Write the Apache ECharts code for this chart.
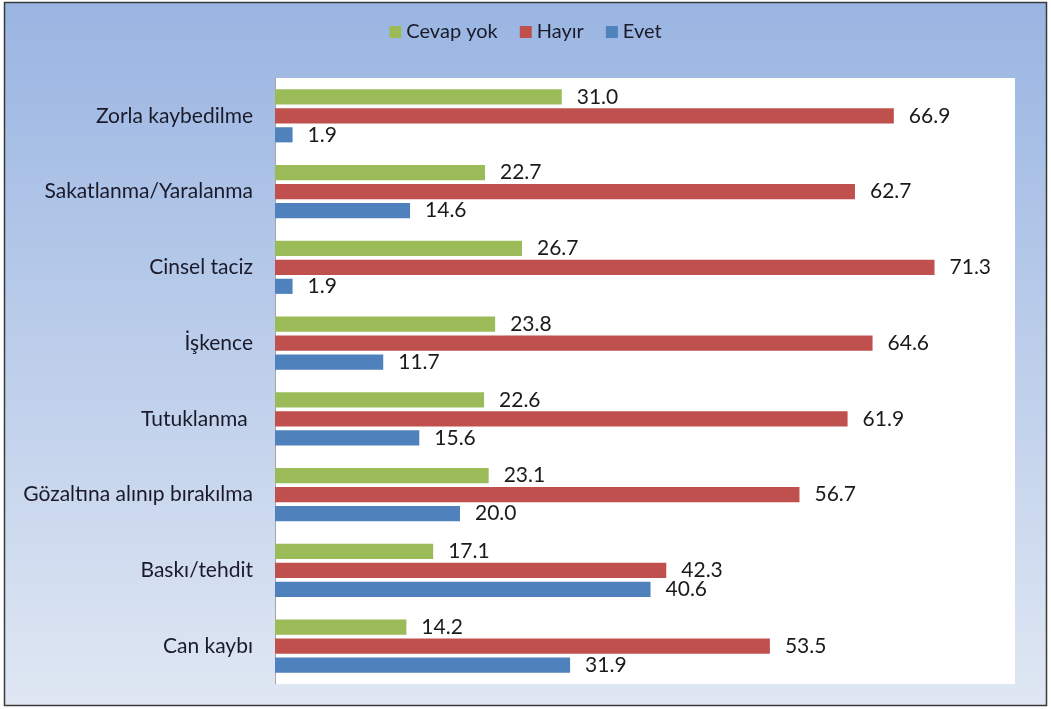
<!DOCTYPE html>
<html lang="tr">
<head>
  <meta http-equiv="Content-Type" content="text/html; charset=UTF-8">
  <title>ECharts</title>
  <script type="text/javascript" src="https://cdn.jsdelivr.net/npm/echarts@6/dist/echarts.min.js"></script>
  <style>html,body{margin:0;padding:0;}</style>
</head>
<body>
<div id="main" style="width: 1051px;height:709px;"></div>
<script type="text/javascript">
  var myChart = echarts.init(document.getElementById('main'));

  // kategoriler (yukaridan asagiya)
  const categories = [
    'Zorla kaybedilme', 'Sakatlanma/Yaralanma', 'Cinsel taciz', 'İşkence',
    'Tutuklanma ', 'Gözaltına alınıp bırakılma', 'Baskı/tehdit', 'Can kaybı'
  ];
  const cevapYok = [31.0, 22.7, 26.7, 23.8, 22.6, 23.1, 17.1, 14.2];
  const hayir    = [66.9, 62.7, 71.3, 64.6, 61.9, 56.7, 42.3, 53.5];
  const evet     = [1.9, 14.6, 1.9, 11.7, 15.6, 20.0, 40.6, 31.9];

  const FONT = 'Lato';

  function makeSeries(name, data, color) {
    return {
      name: name,
      type: 'bar',
      data: data,
      itemStyle: { color: color },
      barGap: '25%',
      barCategoryGap: '30%',
      label: {
        show: true,
        position: 'right',
        distance: 15,
        color: '#1a1a1a',
        fontFamily: FONT,
        fontSize: 21,
        formatter: function (p) { return p.value.toFixed(1); }
      }
    };
  }

  myChart.setOption({
    animation: false,
    textStyle: { fontFamily: FONT },
    graphic: [{
      type: 'rect',
      silent: true,
      z: -10,
      shape: { x: 4.5, y: 2.5, width: 1042, height: 703 },
      style: {
        fill: new echarts.graphic.LinearGradient(0, 0, 0, 1, [
          { offset: 0, color: '#9ab5e2' },
          { offset: 1, color: '#dfe7f3' }
        ]),
        stroke: '#3a3a3a',
        lineWidth: 1.5
      }
    }],
    legend: {
      top: 17,
      left: 'center',
      data: ['Cevap yok', 'Hayır', 'Evet'],
      itemWidth: 12,
      itemHeight: 12,
      itemGap: 22,
      icon: 'rect',
      textStyle: { fontFamily: FONT, fontSize: 20, color: '#1a1a2a' }
    },
    grid: {
      left: 275,
      right: 36,
      top: 78,
      bottom: 25,
      show: true,
      backgroundColor: '#ffffff',
      borderWidth: 0
    },
    xAxis: {
      type: 'value',
      min: 0,
      max: 80,
      axisLine: { show: false },
      axisTick: { show: false },
      axisLabel: { show: false },
      splitLine: { show: false }
    },
    yAxis: {
      type: 'category',
      inverse: true,
      data: categories,
      axisLine: { show: true, lineStyle: { color: '#a6a6a6', width: 1 } },
      axisTick: { show: false },
      axisLabel: { fontFamily: FONT, fontSize: 21, color: '#1a1a2a', margin: 22 }
    },
    series: [
      makeSeries('Cevap yok', cevapYok, '#9bbb59'),
      makeSeries('Hayır', hayir, '#c0504d'),
      makeSeries('Evet', evet, '#4f81bd')
    ]
  });
</script>
</body>
</html>
